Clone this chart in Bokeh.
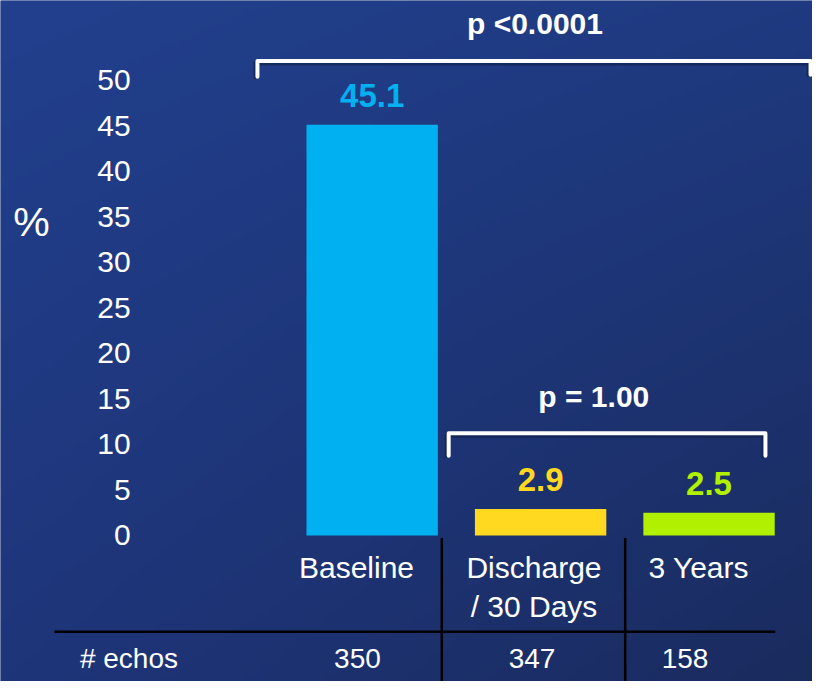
import numpy as np
from bokeh.plotting import figure
from bokeh.models import FixedTicker, Range1d
from bokeh.core.properties import value
from bokeh.embed import file_html
from bokeh.resources import INLINE

# ---------------- data ----------------
categories = ["Baseline", "Discharge\n/ 30 Days", "3 Years"]
percent = [45.1, 2.9, 2.5]
echos = [350, 347, 158]
bar_colors = ["#00B0F0", "#FFD91F", "#B0F000"]
y_ticks = [0, 5, 10, 15, 20, 25, 30, 35, 40, 45, 50]
y_label = "%"
row_label = "# echos"
p_overall = "p <0.0001"
p_followup = "p = 1.00"

# ---------------- layout helpers (reference px -> data) ----------------
X0, DX = 379.0, 171.75   # ref x of category 0 centre, px per category
Y0, DY = 547.5, 9.32     # ref y of value 0, px per percent
REF_W, REF_H = 828, 697


def dx(px):
    return (px - X0) / DX


def dy(py):
    return (Y0 - py) / DY


def lift(fs):
    # compensation so that the glyph baseline lands on the requested y
    return -0.37 * fs


FONT = value("Liberation Sans")
W, H = 812, 681

p = figure(width=W, height=H, output_backend="svg", toolbar_location=None,
           title=None, x_axis_location=None,
           x_range=Range1d(dx(0), dx(REF_W)), y_range=Range1d(dy(REF_H), dy(0)),
           min_border=0, min_border_left=0, min_border_right=0,
           min_border_top=0, min_border_bottom=0)
p.outline_line_color = None
p.background_fill_color = "#1F377A"
p.border_fill_color = "#1F377A"
p.xgrid.visible = False
p.ygrid.visible = False

# ---------------- gradient background ----------------
ny, nx = 120, 140
tl = np.array([34, 64, 142], float)
tr = np.array([31, 58, 128], float)
bl = np.array([30, 53, 122], float)
br = np.array([26, 43, 94], float)
u = np.linspace(0, 1, nx)[None, :, None]
v = np.linspace(0, 1, ny)[:, None, None]   # 0 = bottom row
top = tl * (1 - u) + tr * u
bot = bl * (1 - u) + br * u
rgb = bot * (1 - v) + top * v
img = np.empty((ny, nx), dtype=np.uint32)
view = img.view(dtype=np.uint8).reshape((ny, nx, 4))
view[:, :, 0] = rgb[:, :, 0].astype(np.uint8)
view[:, :, 1] = rgb[:, :, 1].astype(np.uint8)
view[:, :, 2] = rgb[:, :, 2].astype(np.uint8)
view[:, :, 3] = 255
p.image_rgba(image=[img], x=p.x_range.start, y=p.y_range.start,
             dw=p.x_range.end - p.x_range.start, dh=p.y_range.end - p.y_range.start)

# ---------------- y axis ----------------
ax = p.yaxis[0]
ax.fixed_location = dx(145)
ax.ticker = FixedTicker(ticks=y_ticks)
ax.axis_line_color = None
ax.major_tick_line_color = None
ax.minor_tick_line_color = None
ax.major_label_standoff = 6
ax.major_label_text_font = "Liberation Sans"
ax.major_label_text_font_size = "30px"
ax.major_label_text_color = "white"

p.text(x=[dx(31.5)], y=[dy(242)], text=[y_label], text_font=FONT,
       text_font_size="41px", text_color="white", text_align="center",
       text_baseline="alphabetic", y_offset=lift(41))

# ---------------- bars ----------------
xs = list(range(len(categories)))
p.vbar(x=xs, top=percent, bottom=0, width=0.78, color=bar_colors, line_color=None)
p.text(x=xs, y=percent, text=[f"{v:.1f}" for v in percent], text_color=bar_colors,
       y_offset=-17 + lift(33), text_font=FONT, text_font_style="bold",
       text_font_size="33px", text_align="center", text_baseline="alphabetic")

# ---------------- brackets ----------------
brackets = [
    ([262, 262, 826, 826], [78, 62, 62, 76]),
    ([457, 457, 780, 780], [466, 443, 443, 466]),
]
for bxs, bys in brackets:
    p.line([dx(x - 1.5) for x in bxs], [dy(y + 2) for y in bys], line_color="#0E1B44",
           line_alpha=0.55, line_width=5, line_join="round")
    p.line([dx(x) for x in bxs], [dy(y) for y in bys], line_color="white",
           line_width=4, line_join="round", line_cap="round")

p.text(x=[dx(545), dx(605)], y=[dy(35), dy(417)], text=[p_overall, p_followup],
       text_font=FONT, text_font_style="bold", text_font_size="30px",
       text_color="white", text_align="center", text_baseline="alphabetic",
       y_offset=lift(30))

# ---------------- table ----------------
line1 = [c.split("\n")[0] for c in categories]
line2 = [c.split("\n")[1] if "\n" in c else "" for c in categories]
label_x = [dx(363), dx(544), dx(712)]
p.text(x=label_x, y=[dy(592)] * 3, text=line1, text_font=FONT, text_font_size="30px",
       text_color="white", text_align="center", text_baseline="alphabetic",
       y_offset=lift(30))
p.text(x=label_x, y=[dy(632)] * 3, text=line2, text_font=FONT, text_font_size="30px",
       text_color="white", text_align="center", text_baseline="alphabetic",
       y_offset=lift(30))

row_x = [dx(131), dx(364), dx(542), dx(698)]
p.text(x=row_x, y=[dy(684)] * 4, text=[row_label] + [str(e) for e in echos],
       text_font=FONT, text_font_size="28px", text_color="white",
       text_align="center", text_baseline="alphabetic", y_offset=lift(28))

p.segment(x0=[dx(450), dx(637), dx(55)], y0=[dy(550), dy(550), dy(646)],
          x1=[dx(450), dx(637), dx(790)], y1=[dy(700), dy(700), dy(646)],
          line_color="black", line_width=2.5)

open("out.html", "w").write(file_html(p, INLINE))
